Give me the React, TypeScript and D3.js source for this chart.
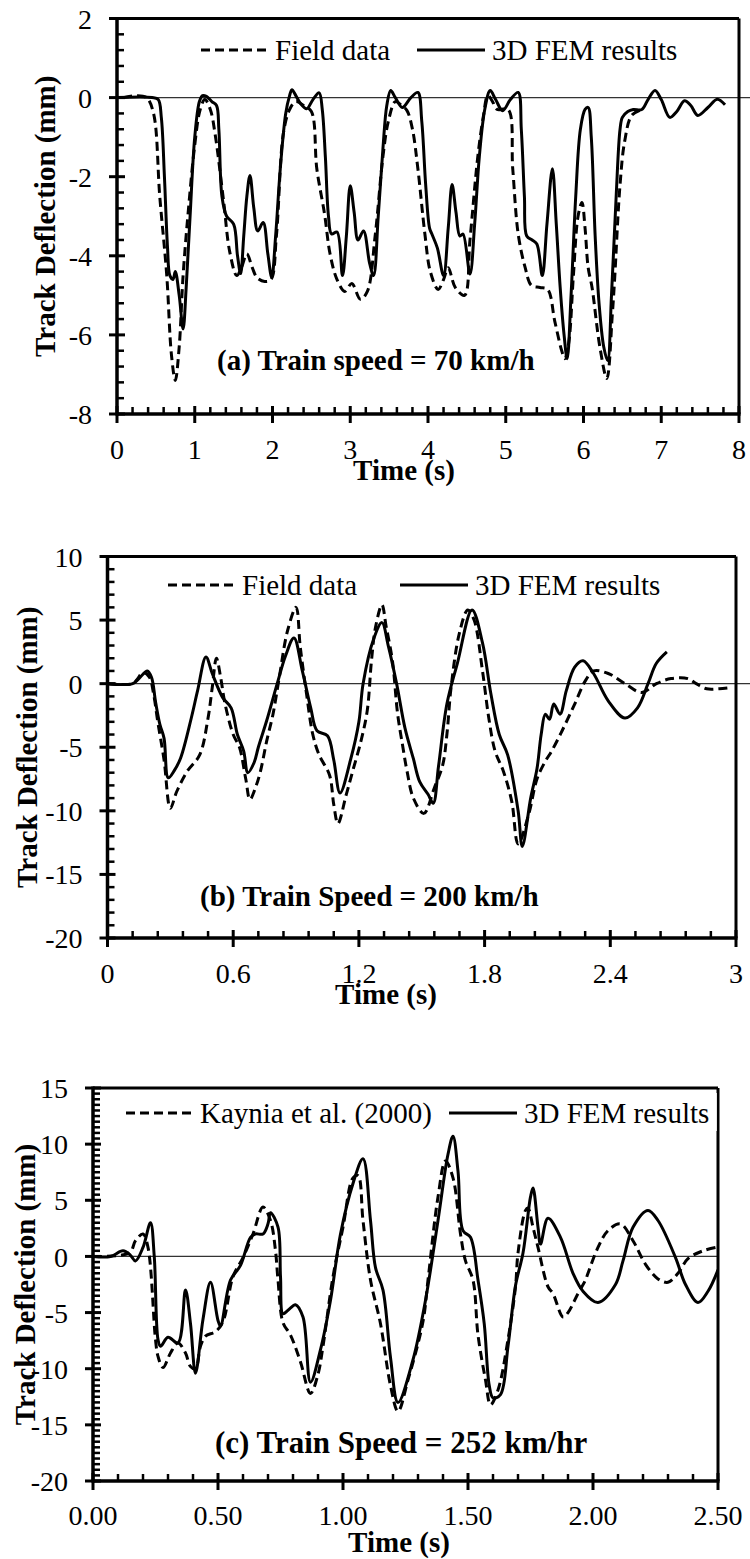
import React from "react";
import * as d3 from "d3";

type P = [number, number];

// ---------- Panel (a): 70 km/h ----------
const aXTicks = [0, 1, 2, 3, 4, 5, 6, 7, 8];
const aYTicks = [2, 0, -2, -4, -6, -8];
const aField: P[] = [
  [0.08, 0], [0.25, 0.05], [0.38, 0], [0.47, -0.4], [0.55, -2.5], [0.64, -4.5], [0.7, -6.5], [0.75, -7.15],
  [0.8, -6.3], [0.85, -4.5], [0.92, -2.8], [1.0, -1.2], [1.07, -0.3], [1.13, -0.05], [1.2, -0.3], [1.26, -0.9],
  [1.37, -2.6], [1.45, -3.9], [1.54, -4.5], [1.6, -4.3], [1.67, -3.95], [1.74, -4.3], [1.8, -4.55], [1.9, -4.65],
  [1.98, -4.6], [2.05, -3.5], [2.14, -0.9], [2.22, -0.3], [2.3, -0.1], [2.4, -0.2], [2.5, -0.35], [2.57, -1.8],
  [2.67, -2.95], [2.74, -3.95], [2.83, -4.6], [2.93, -4.9], [3.02, -4.7], [3.13, -5.1], [3.22, -4.9], [3.32, -3.5],
  [3.42, -1.5], [3.49, -0.6], [3.58, -0.1], [3.66, -0.2], [3.73, -0.33], [3.8, -0.8], [3.87, -1.8], [3.96, -3.45],
  [4.03, -4.4], [4.13, -4.85], [4.2, -4.6], [4.26, -4.3], [4.35, -4.8], [4.47, -5.0], [4.54, -3.6], [4.64, -1.5],
  [4.71, -0.5], [4.77, 0.05], [4.83, -0.1], [4.89, -0.3], [5.03, -0.3], [5.09, -1.8], [5.16, -3.45], [5.25, -4.3],
  [5.33, -4.75], [5.44, -4.8], [5.54, -4.85], [5.63, -5.65], [5.72, -6.4], [5.76, -6.6], [5.81, -6.2], [5.87, -4.5],
  [5.93, -3.0], [5.98, -2.65], [6.02, -3.3], [6.06, -4.3], [6.11, -4.8], [6.21, -6.3], [6.3, -7.1], [6.37, -5.5],
  [6.4, -4.6], [6.47, -2.2], [6.53, -1.1], [6.62, -0.45], [6.75, -0.3],
];
const aFem: P[] = [
  [0, 0], [0.45, 0], [0.53, -0.05], [0.57, -0.5], [0.61, -2], [0.65, -3.8], [0.68, -4.5], [0.72, -4.6],
  [0.75, -4.4], [0.8, -5], [0.85, -5.85], [0.89, -4.8], [0.94, -3], [1.0, -1], [1.06, -0.1], [1.1, 0.05],
  [1.15, 0.03], [1.22, -0.1], [1.28, -0.2], [1.31, -0.8], [1.35, -2.5], [1.41, -3.0], [1.5, -3.2], [1.55, -4.0],
  [1.59, -4.45], [1.63, -3.5], [1.67, -2.5], [1.71, -1.97], [1.76, -2.8], [1.81, -3.37], [1.88, -3.16], [1.94, -3.95],
  [1.99, -4.55], [2.04, -3.5], [2.1, -1.8], [2.17, -0.4], [2.22, 0.05], [2.25, 0.2], [2.3, 0.05], [2.36, -0.15],
  [2.44, -0.28], [2.52, -0.05], [2.6, 0.12], [2.64, -0.3], [2.68, -1.5], [2.72, -3.0], [2.76, -3.45], [2.83, -3.4],
  [2.9, -4.5], [2.95, -3.5], [3.0, -2.23], [3.05, -2.9], [3.1, -3.6], [3.17, -3.37], [3.25, -4.2], [3.3, -4.5],
  [3.36, -3.0], [3.42, -1.3], [3.47, -0.2], [3.52, 0.18], [3.58, 0], [3.67, -0.25], [3.78, 0], [3.87, 0.13],
  [3.92, -0.6], [3.97, -2.2], [4.02, -3.3], [4.05, -3.45], [4.12, -3.8], [4.2, -4.5], [4.26, -3.3], [4.31, -2.2],
  [4.36, -2.9], [4.41, -3.5], [4.45, -3.45], [4.54, -4.46], [4.6, -3.2], [4.66, -1.5], [4.73, -0.3], [4.8, 0.18],
  [4.87, -0.05], [4.96, -0.33], [5.06, -0.05], [5.16, 0.13], [5.2, -0.8], [5.24, -2.5], [5.27, -3.5], [5.34, -3.6],
  [5.4, -3.7], [5.47, -4.5], [5.53, -3.2], [5.6, -1.8], [5.65, -3.2], [5.7, -4.8], [5.75, -6.0], [5.79, -6.6],
  [5.84, -5], [5.9, -2.5], [5.96, -0.8], [6.02, -0.3], [6.06, -0.25], [6.1, -1], [6.15, -3.5], [6.2, -5.2],
  [6.26, -6.3], [6.31, -6.65], [6.36, -5], [6.42, -2.5], [6.47, -0.8], [6.5, -0.5], [6.57, -0.35], [6.64, -0.3],
  [6.75, -0.3], [6.83, -0.05], [6.92, 0.18], [7.0, -0.05], [7.11, -0.5], [7.2, -0.35], [7.3, -0.08], [7.38, -0.2],
  [7.47, -0.45], [7.6, -0.25], [7.72, -0.04], [7.82, -0.18],
];

// ---------- Panel (b): 200 km/h ----------
const bXTicks = [0, 0.6, 1.2, 1.8, 2.4, 3];
const bXTickLabels = ["0", "0.6", "1.2", "1.8", "2.4", "3"];
const bYTicks = [10, 5, 0, -5, -10, -15, -20];
const bField: P[] = [
  [0, 0], [0.12, 0], [0.14, 0.3], [0.17, 0.9], [0.2, 0.5], [0.22, -0.8], [0.24, -3], [0.27, -6], [0.3, -9.8],
  [0.33, -8.5], [0.38, -6.9], [0.44, -5.6], [0.48, -2.7], [0.5, -0.3], [0.52, 2.0], [0.54, 0.5], [0.56, -1.5],
  [0.6, -4], [0.63, -5], [0.66, -7.5], [0.68, -9.1], [0.71, -8], [0.73, -6.9], [0.76, -4.5], [0.79, -2.4],
  [0.82, 0.5], [0.86, 4.2], [0.9, 6.0], [0.92, 2.9], [0.95, -0.8], [0.98, -4], [1.01, -5.6], [1.06, -7.2],
  [1.08, -9.5], [1.1, -11], [1.14, -8.7], [1.17, -6.9], [1.21, -4.5], [1.24, -2.1], [1.26, 1.8], [1.28, 4.5],
  [1.31, 6.2], [1.33, 4.5], [1.36, 1.8], [1.385, -2.4], [1.41, -5], [1.43, -6.9], [1.46, -9], [1.51, -10.2],
  [1.56, -8.2], [1.6, -6.4], [1.62, -4], [1.64, -0.3], [1.68, 4], [1.72, 5.8], [1.75, 5], [1.79, 1], [1.82, -2.7],
  [1.85, -5.3], [1.89, -6.9], [1.93, -9.3], [1.96, -12.6], [2.01, -10.3], [2.05, -7.5], [2.09, -6.1], [2.12, -5.3],
  [2.17, -3.7], [2.23, -1.6], [2.28, 0.2], [2.32, 1.0], [2.39, 0.8], [2.47, 0], [2.55, -0.7], [2.62, 0],
  [2.69, 0.4], [2.77, 0.4], [2.81, 0], [2.86, -0.4], [2.92, -0.4], [2.98, -0.3],
];
const bFem: P[] = [
  [0, 0], [0.12, 0], [0.15, 0.4], [0.19, 1.0], [0.21, 0.5], [0.23, -1.5], [0.25, -3.2], [0.27, -4.3], [0.29, -7.4],
  [0.32, -6.8], [0.35, -5.8], [0.4, -2.7], [0.43, -0.55], [0.47, 2.1], [0.5, 0.8], [0.55, -1.1], [0.59, -1.9],
  [0.62, -4.0], [0.65, -5.3], [0.67, -7.0], [0.7, -6.2], [0.72, -5], [0.76, -2.9], [0.81, 0], [0.85, 2.2],
  [0.89, 3.6], [0.93, 1.0], [0.97, -1.9], [1.0, -3.7], [1.05, -4.1], [1.08, -6], [1.11, -8.6], [1.16, -6],
  [1.2, -3], [1.22, 0], [1.27, 3.5], [1.31, 4.8], [1.34, 3], [1.38, 0], [1.42, -3.5], [1.46, -5.9], [1.49, -7.7],
  [1.53, -8.7], [1.555, -9.4], [1.58, -6.5], [1.62, -1.6], [1.67, 1.6], [1.74, 5.8], [1.79, 3.2], [1.83, -0.8],
  [1.87, -4.0], [1.91, -5.6], [1.96, -10], [1.98, -12.8], [2.02, -9], [2.05, -6.7], [2.07, -4], [2.09, -2.4],
  [2.11, -2.8], [2.13, -1.6], [2.16, -2.4], [2.19, -0.55], [2.23, 1.3], [2.27, 1.8], [2.32, 0.8], [2.39, -1.35],
  [2.47, -2.7], [2.53, -1.9], [2.58, 0], [2.62, 1.6], [2.67, 2.5],
];

// ---------- Panel (c): 252 km/hr ----------
const cXTicks = [0, 0.5, 1, 1.5, 2, 2.5];
const cXTickLabels = ["0.00", "0.50", "1.00", "1.50", "2.00", "2.50"];
const cYTicks = [15, 10, 5, 0, -5, -10, -15, -20];
const cKaynia: P[] = [
  [0, 0], [0.11, 0.1], [0.15, 0.4], [0.17, 1.4], [0.2, 2.0], [0.22, 0.8], [0.25, -7.4], [0.26, -8.9], [0.28, -9.9],
  [0.31, -8.6], [0.34, -7.7], [0.37, -8.6], [0.39, -9.8], [0.41, -10], [0.43, -8], [0.45, -7.1], [0.49, -6.7],
  [0.52, -5.8], [0.56, -1.8], [0.6, -0.1], [0.64, 2.0], [0.68, 4.4], [0.71, 3.2], [0.73, 0.5], [0.74, -2.1],
  [0.76, -5.9], [0.79, -7], [0.83, -9.4], [0.87, -12.2], [0.9, -10.5], [0.92, -8], [0.96, -1.8], [1.0, 2.6],
  [1.04, 7], [1.06, 7.2], [1.08, 3.2], [1.11, -2.1], [1.15, -6], [1.19, -11.5], [1.22, -13.8], [1.26, -11],
  [1.32, -5.8], [1.34, -2.1], [1.38, 5.3], [1.41, 8.5], [1.44, 7], [1.47, 2.0], [1.49, -0.4], [1.52, -2.1],
  [1.54, -7], [1.57, -11], [1.59, -13.2], [1.62, -11.9], [1.66, -7.4], [1.69, -2.7], [1.7, 0.3], [1.73, 4.1],
  [1.74, 4.3], [1.76, 2.6], [1.78, 0.8], [1.82, -2.7], [1.84, -3.3], [1.88, -5.4], [1.9, -5], [1.94, -3.3],
  [1.97, -2.1], [1.98, -1.5], [2.02, 0.8], [2.06, 2.3], [2.11, 2.9], [2.16, 1.4], [2.21, -0.7], [2.26, -2.0],
  [2.3, -2.3], [2.34, -1.5], [2.38, -0.2], [2.44, 0.5], [2.49, 0.8],
];
const cFem: P[] = [
  [0, 0], [0.07, 0], [0.12, 0.5], [0.15, 0.1], [0.17, -0.4], [0.2, 0.8], [0.23, 3.0], [0.245, 0], [0.26, -7.4],
  [0.27, -8], [0.3, -7.2], [0.34, -7.7], [0.37, -3], [0.39, -6], [0.41, -10.4], [0.44, -5.6], [0.47, -2.3],
  [0.5, -5.7], [0.51, -6.2], [0.55, -2.1], [0.59, -0.8], [0.63, 1.7], [0.65, 2.0], [0.68, 2.0], [0.7, 2.9],
  [0.71, 3.9], [0.74, 2.6], [0.75, -1.8], [0.76, -5.1], [0.78, -4.8], [0.81, -4.3], [0.84, -5.4], [0.87, -11.2],
  [0.91, -8.3], [0.95, -3.9], [0.99, 2], [1.04, 6.5], [1.08, 8.7], [1.11, 3.2], [1.13, -1], [1.16, -3],
  [1.19, -9], [1.22, -13], [1.28, -9.2], [1.33, -3.9], [1.38, 3.2], [1.42, 9.1], [1.44, 10.7], [1.46, 7.6],
  [1.48, 2.3], [1.51, 1.7], [1.54, -2.1], [1.565, -6], [1.585, -11.5], [1.6, -12.6], [1.63, -12.3], [1.66, -8],
  [1.69, -2.6], [1.72, 0.3], [1.75, 5.3], [1.76, 6.1], [1.78, 2.6], [1.79, 1.1], [1.82, 3.4], [1.87, 1.7],
  [1.92, -1.5], [1.96, -3.1], [2.02, -4.1], [2.09, -2.5], [2.12, -0.4], [2.16, 2.6], [2.22, 4.1], [2.26, 3.2],
  [2.33, -0.1], [2.37, -2.5], [2.42, -4.1], [2.46, -3.1], [2.5, -1.2],
];

const FONT = "'Liberation Serif', 'Times New Roman', Times, serif";

interface PanelProps {
  id: string;
  left: number; right: number; top: number; bottom: number;
  xDomain: [number, number]; yDomain: [number, number];
  xTicks: number[]; xTickLabels: string[]; yTicks: number[];
  xMinor: number; yMinor: number;
  dashed: P[]; solid: P[];
  dashedLabel: string; solidLabel: string;
  legendY: number; legendDashX: number; legendSolidX: number; legendTextY: number;
  legendBg?: boolean;
  note: string; noteX: number; noteY: number; noteSize: number;
  yTitleX: number; xTitleX: number; xTitleY: number; xTickY: number;
  zeroEnd: number;
}

function minorTicks(domain: [number, number], step: number, majors: number[]) {
  const out: number[] = [];
  const n = Math.round((domain[1] - domain[0]) / step);
  for (let i = 0; i <= n; i++) {
    const v = domain[0] + i * step;
    if (!majors.some((m) => Math.abs(m - v) < step * 0.01)) out.push(v);
  }
  return out;
}

function Panel(p: PanelProps) {
  const x = d3.scaleLinear().domain(p.xDomain).range([p.left, p.right]);
  const y = d3.scaleLinear().domain(p.yDomain).range([p.bottom, p.top]);
  const line = d3
    .line<P>()
    .x((d) => x(d[0]))
    .y((d) => y(d[1]))
    .curve(d3.curveCatmullRom.alpha(0.5));
  const xm = minorTicks(p.xDomain, p.xMinor, p.xTicks);
  const ym = minorTicks(p.yDomain, p.yMinor, p.yTicks);
  const lw = 68;
  return (
    <g>
      <defs>
        <clipPath id={`clip-${p.id}`}>
          <rect x={p.left} y={p.top - 4} width={p.right - p.left} height={p.bottom - p.top + 4} />
        </clipPath>
      </defs>
      {/* zero line */}
      <line x1={p.left} x2={p.zeroEnd} y1={y(0)} y2={y(0)} stroke="#333" strokeWidth={1.3} />
      {/* data */}
      <g clipPath={`url(#clip-${p.id})`}>
        <path d={line(p.dashed) || ""} fill="none" stroke="#000" strokeWidth={3} strokeDasharray="9,5" />
        <path d={line(p.solid) || ""} fill="none" stroke="#000" strokeWidth={3} />
      </g>
      {/* frame */}
      <line x1={p.left} x2={p.right} y1={p.top} y2={p.top} stroke="#000" strokeWidth={3} />
      <line x1={p.right} x2={p.right} y1={p.top} y2={p.bottom} stroke="#000" strokeWidth={3} />
      {p.legendBg && (
        <rect x={p.legendDashX - 8} y={p.legendY - 20} width={p.right - 1.2 - (p.legendDashX - 8)} height={38} fill="#fff" />
      )}
      {/* ticks */}
      {p.yTicks.map((t) => (
        <line key={`ym${t}`} x1={p.left - 8} x2={p.left + 8} y1={y(t)} y2={y(t)} stroke="#000" strokeWidth={3} />
      ))}
      {ym.map((t, i) => (
        <line key={`yn${i}`} x1={p.left} x2={p.left + 7} y1={y(t)} y2={y(t)} stroke="#000" strokeWidth={2.5} />
      ))}
      {p.xTicks.map((t) => (
        <line key={`xm${t}`} x1={x(t)} x2={x(t)} y1={p.bottom - 8} y2={p.bottom + 9} stroke="#000" strokeWidth={3} />
      ))}
      {xm.map((t, i) => (
        <line key={`xn${i}`} x1={x(t)} x2={x(t)} y1={p.bottom - 7} y2={p.bottom} stroke="#000" strokeWidth={2.5} />
      ))}
      <line x1={p.left} x2={p.left} y1={p.top - 1.5} y2={p.bottom + 1.5} stroke="#000" strokeWidth={3.5} />
      <line x1={p.left} x2={p.right + 1.5} y1={p.bottom} y2={p.bottom} stroke="#000" strokeWidth={3.5} />
      {/* tick labels */}
      {p.yTicks.map((t) => (
        <text key={`yl${t}`} x={p.left - 25} y={y(t)} dy="0.36em" textAnchor="end" fontSize={28} fontFamily={FONT}>
          {t}
        </text>
      ))}
      {p.xTicks.map((t, i) => (
        <text key={`xl${t}`} x={x(t)} y={p.xTickY} textAnchor="middle" fontSize={28} fontFamily={FONT}>
          {p.xTickLabels[i]}
        </text>
      ))}
      {/* titles */}
      <text
        transform={`translate(${p.yTitleX},${(p.top + p.bottom) / 2}) rotate(-90)`}
        textAnchor="middle"
        fontSize={29}
        fontWeight="bold"
        fontFamily={FONT}
      >
        Track Deflection (mm)
      </text>
      <text x={p.xTitleX} y={p.xTitleY} textAnchor="middle" fontSize={29} fontWeight="bold" fontFamily={FONT}>
        Time (s)
      </text>
      {/* legend */}
      <line x1={p.legendDashX} x2={p.legendDashX + lw} y1={p.legendY} y2={p.legendY} stroke="#000" strokeWidth={3} strokeDasharray="9,5" />
      <text x={p.legendDashX + lw + 6} y={p.legendTextY} fontSize={29} fontFamily={FONT}>
        {p.dashedLabel}
      </text>
      <line x1={p.legendSolidX} x2={p.legendSolidX + lw} y1={p.legendY} y2={p.legendY} stroke="#000" strokeWidth={3} />
      <text x={p.legendSolidX + lw + 7} y={p.legendTextY} fontSize={29} fontFamily={FONT}>
        {p.solidLabel}
      </text>
      {/* annotation */}
      <text x={p.noteX} y={p.noteY} fontSize={p.noteSize} fontWeight="bold" fontFamily={FONT}>
        {p.note}
      </text>
    </g>
  );
}

export default function App() {
  return (
    <svg width={750} height={1559} style={{ display: "block", position: "absolute", left: 0, top: 0, background: "#fff" }}>
      <rect x={0} y={0} width={750} height={1559} fill="#fff" />
      <Panel
        id="a"
        left={117} right={739} top={18.5} bottom={414}
        xDomain={[0, 8]} yDomain={[-8, 2]}
        xTicks={aXTicks} xTickLabels={aXTicks.map(String)} yTicks={aYTicks}
        xMinor={0.2} yMinor={0.4}
        dashed={aField} solid={aFem}
        dashedLabel="Field data" solidLabel="3D FEM results"
        legendY={50} legendDashX={201} legendSolidX={417} legendTextY={60}
        note="(a) Train speed = 70 km/h" noteX={217} noteY={370} noteSize={29}
        yTitleX={55} xTitleX={404} xTitleY={480} xTickY={459}
        zeroEnd={750}
      />
      <Panel
        id="b"
        left={107.5} right={736} top={556.5} bottom={938}
        xDomain={[0, 3]} yDomain={[-20, 10]}
        xTicks={bXTicks} xTickLabels={bXTickLabels} yTicks={bYTicks}
        xMinor={0.12} yMinor={1}
        dashed={bField} solid={bFem}
        dashedLabel="Field data" solidLabel="3D FEM results"
        legendY={585} legendDashX={168} legendSolidX={400} legendTextY={595}
        note="(b) Train Speed = 200 km/h" noteX={200} noteY={906} noteSize={29}
        yTitleX={37} xTitleX={386} xTitleY={1004} xTickY={983}
        zeroEnd={750}
      />
      <Panel
        id="c"
        left={93} right={718} top={1088} bottom={1481}
        xDomain={[0, 2.5]} yDomain={[-20, 15]}
        xTicks={cXTicks} xTickLabels={cXTickLabels} yTicks={cYTicks}
        xMinor={0.1} yMinor={0.5}
        dashed={cKaynia} solid={cFem}
        dashedLabel="Kaynia et al. (2000)" solidLabel="3D FEM results"
        legendY={1113} legendDashX={126} legendSolidX={449} legendTextY={1123}
        legendBg
        note="(c) Train Speed = 252 km/hr" noteX={215} noteY={1453} noteSize={31}
        yTitleX={35} xTitleX={399} xTitleY={1552} xTickY={1525}
        zeroEnd={718}
      />
    </svg>
  );
}
